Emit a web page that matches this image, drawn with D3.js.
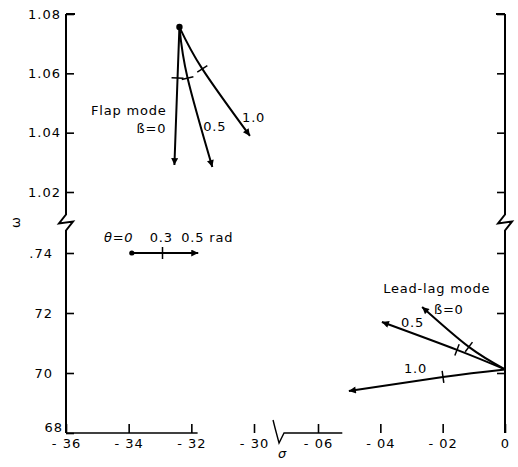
<!DOCTYPE html>
<html>
<head>
<meta charset="utf-8">
<script src="https://cdn.jsdelivr.net/npm/d3@7"></script>
<style>
body { margin: 0; background: #fff; }
text { font-family: "DejaVu Sans", sans-serif; fill: #000; }
</style>
</head>
<body>
<svg width="518" height="467"></svg>
<script>
// axis ticks and their printed labels
var upperTicks = [1.02, 1.04, 1.06, 1.08],
    upperLabels = ["1.02", "1.04", "1.06", "1.08"],
    lowerTicks = [0.68, 0.70, 0.72, 0.74],
    lowerLabels = ["68", "70", "72", ".74"],
    leftTicks = [-36, -34, -32, -30],
    leftLabels = ["- 36", "- 34", "- 32", "- 30"],
    rightTicks = [-0.06, -0.04, -0.02, 0],
    rightLabels = ["- 06", "- 04", "- 02", "0"];

// flap mode roots [sigma, omega] at theta = 0, 0.3, 0.5 rad
var flapNames = ["ß=0", "0.5", "1.0"],
    flap0 = [[-32.38, 1.0756], [-32.44, 1.0584], [-32.54, 1.0291]],
    flap05 = [[-32.38, 1.0756], [-32.12, 1.0584], [-31.33, 1.0284]],
    flap10 = [[-32.38, 1.0756], [-31.65, 1.0615], [-30.13, 1.0389]];

// lead-lag mode roots [sigma, omega] at theta = 0, 0.3, 0.5 rad
var lagNames = ["ß=0", "0.5", "1.0"],
    lag0 = [[0, 0.7012], [-0.0116, 0.7087], [-0.0266, 0.722]],
    lag05 = [[0, 0.7012], [-0.0154, 0.7077], [-0.0395, 0.717]],
    lag10 = [[0, 0.7012], [-0.0199, 0.6987], [-0.0501, 0.694]];

// theta key
var thetaKey = [[-33.9, 0.74], [-32.92, 0.74], [-31.78, 0.74]],
    thetaLabels = ["θ=0", "0.3", "0.5 rad"];

var svg = d3.select("svg");

// broken scales: two sigma pieces, two omega pieces
var xL = d3.scaleLinear().domain([-36, -30]).range([66, 254]),
    xR = d3.scaleLinear().domain([-0.06, 0]).range([318, 505]),
    yU = d3.scaleLinear().domain([1.02, 1.08]).range([192, 14]),
    yL = d3.scaleLinear().domain([0.68, 0.74]).range([433, 253]);

var y0 = yL(0.68),
    yBreak = (yU(1.02) + yL(0.74)) / 2;

svg.append("defs").append("marker")
    .attr("id", "arrow")
    .attr("viewBox", "0 0 10 10")
    .attr("refX", 10).attr("refY", 5)
    .attr("markerUnits", "userSpaceOnUse")
    .attr("markerWidth", 10).attr("markerHeight", 7)
    .attr("orient", "auto")
  .append("path")
    .attr("d", "M0,0L10,5L0,10z")
    .attr("fill", "#000");

function styleAxis(g) {
  g.select(".domain").remove();
  g.selectAll(".tick line").attr("stroke", "#000").attr("stroke-width", 1.6);
  g.selectAll(".tick text").attr("font-size", 13).attr("letter-spacing", 1);
}

// left omega axis (ticks inward, labels outside)
var gl = svg.append("g").attr("transform", "translate(" + xL(-36) + ",0)");
gl.append("g")
    .call(d3.axisLeft(yU).tickValues(upperTicks)
      .tickFormat(function(d, i) { return upperLabels[i]; })
      .tickSize(-8).tickPadding(5))
    .call(styleAxis);
var lowAx = gl.append("g")
    .call(d3.axisLeft(yL).tickValues(lowerTicks)
      .tickFormat(function(d, i) { return lowerLabels[i]; })
      .tickSize(-8).tickPadding(13))
    .call(styleAxis);
lowAx.selectAll(".tick").filter(function(d) { return d === 0.68; })
    .select("text").attr("x", -3).attr("dy", "-0.1em");

// right omega axis, ticks only
var gr = svg.append("g").attr("transform", "translate(" + xR(0) + ",0)");
gr.append("g").call(d3.axisRight(yU).tickValues(upperTicks)
    .tickFormat(function() { return ""; }).tickSize(-8)).call(styleAxis);
gr.append("g").call(d3.axisRight(yL).tickValues(lowerTicks.slice(1))
    .tickFormat(function() { return ""; }).tickSize(-8)).call(styleAxis);

// sigma axis pieces
var gb = svg.append("g").attr("transform", "translate(0," + y0 + ")");
gb.append("g")
    .call(d3.axisBottom(xL).tickValues(leftTicks)
      .tickFormat(function(d, i) { return leftLabels[i]; })
      .tickSize(-9).tickPadding(6))
    .call(styleAxis);
gb.append("g")
    .call(d3.axisBottom(xR).tickValues(rightTicks)
      .tickFormat(function(d, i) { return rightLabels[i]; })
      .tickSize(-9).tickPadding(6))
    .call(styleAxis);

// vertical axis lines with the zigzag break
function breakAxis(x) {
  return "M" + x + "," + yU(1.08) + "L" + x + "," + (yBreak - 8) +
    "L" + (x - 7) + "," + (yBreak + 1) + "L" + (x + 7) + "," + (yBreak - 1) +
    "L" + x + "," + (yBreak + 8) + "L" + x + "," + y0;
}
svg.append("path").attr("d", breakAxis(xL(-36)))
    .attr("fill", "none").attr("stroke", "#000").attr("stroke-width", 2);
svg.append("path").attr("d", breakAxis(xR(0)))
    .attr("fill", "none").attr("stroke", "#000").attr("stroke-width", 2);
// top brackets
svg.append("path").attr("d", "M" + xL(-36) + "," + yU(1.08) + "h9")
    .attr("stroke", "#000").attr("stroke-width", 2);
svg.append("path").attr("d", "M" + xR(0) + "," + yU(1.08) + "h-9")
    .attr("stroke", "#000").attr("stroke-width", 2);

// horizontal axis: left stub, then break mark and short stub
svg.append("path")
    .attr("d", "M" + xL(-36) + "," + y0 + "L" + xL(-31.8) + "," + y0)
    .attr("stroke", "#000").attr("stroke-width", 1.4);
var bx = xR(-0.0725);
svg.append("path")
    .attr("d", "M" + (bx - 6) + "," + (y0 - 13) + "L" + (bx - 4) + "," + (y0 - 5) +
      "L" + bx + "," + (y0 + 10) + "L" + (bx + 5) + "," + y0 +
      "L" + xR(-0.0522) + "," + y0)
    .attr("fill", "none").attr("stroke", "#000").attr("stroke-width", 1.4);

// axis titles
svg.append("text").attr("x", bx + 3).attr("y", y0 + 25)
    .attr("text-anchor", "middle").attr("font-size", 13)
    .attr("font-style", "italic").text("σ");
svg.append("text")
    .attr("transform", "translate(15," + yBreak + ") rotate(-90)")
    .attr("text-anchor", "middle").attr("dy", "0.35em")
    .attr("font-size", 13).text("ω");

// root loci
var flapLine = d3.line().x(function(d) { return xL(d[0]); })
    .y(function(d) { return yU(d[1]); }).curve(d3.curveNatural);
var lagLine = d3.line().x(function(d) { return xR(d[0]); })
    .y(function(d) { return yL(d[1]); }).curve(d3.curveNatural);
var keyLine = d3.line().x(function(d) { return xL(d[0]); })
    .y(function(d) { return yL(d[1]); });

function drawLocus(pts, line, fx, fy) {
  svg.append("path").attr("d", line(pts))
      .attr("fill", "none").attr("stroke", "#000").attr("stroke-width", 2)
      .attr("marker-end", "url(#arrow)");
  // cross tick at theta = 0.3, perpendicular to the path
  var ax = fx(pts[0][0]), ay = fy(pts[0][1]),
      cx = fx(pts[1][0]), cy = fy(pts[1][1]),
      ex = fx(pts[2][0]), ey = fy(pts[2][1]);
  var dx = ex - ax, dy = ey - ay, len = Math.sqrt(dx * dx + dy * dy);
  var px = -dy / len * 6, py = dx / len * 6;
  svg.append("line")
      .attr("x1", cx - px).attr("y1", cy - py)
      .attr("x2", cx + px).attr("y2", cy + py)
      .attr("stroke", "#000").attr("stroke-width", 1.5);
}

[flap0, flap05, flap10].forEach(function(p) { drawLocus(p, flapLine, xL, yU); });
[lag0, lag05, lag10].forEach(function(p) { drawLocus(p, lagLine, xR, yL); });
drawLocus(thetaKey, keyLine, xL, yL);

svg.append("circle").attr("cx", xL(flap0[0][0])).attr("cy", yU(flap0[0][1]))
    .attr("r", 3.2).attr("fill", "#000");
svg.append("circle").attr("cx", xL(thetaKey[0][0])).attr("cy", yL(thetaKey[0][1]))
    .attr("r", 2.6).attr("fill", "#000");

// annotations
function label(x, y, t) {
  return svg.append("text").attr("x", x).attr("y", y)
      .attr("font-size", 13).attr("letter-spacing", 0.8).text(t);
}
label(xL(-35.2), yU(1.046), "Flap mode");
label(xL(-33.75), yU(1.0398), flapNames[0]);
label(xL(-31.62), yU(1.0406), flapNames[1]);
label(xL(-30.38), yU(1.0436), flapNames[2]);

label(xR(-0.0391), yL(0.7267), "Lead-lag mode");
label(xR(-0.0228), yL(0.7198), lagNames[0]);
label(xR(-0.0334), yL(0.7153), lagNames[1]);
label(xR(-0.0324), yL(0.700), lagNames[2]);

label(xL(-34.79), yL(0.7437), thetaLabels[0]).attr("font-style", "italic");
label(xL(-33.33), yL(0.7437), thetaLabels[1]);
label(xL(-32.32), yL(0.7437), thetaLabels[2]);
</script>
</body>
</html>
